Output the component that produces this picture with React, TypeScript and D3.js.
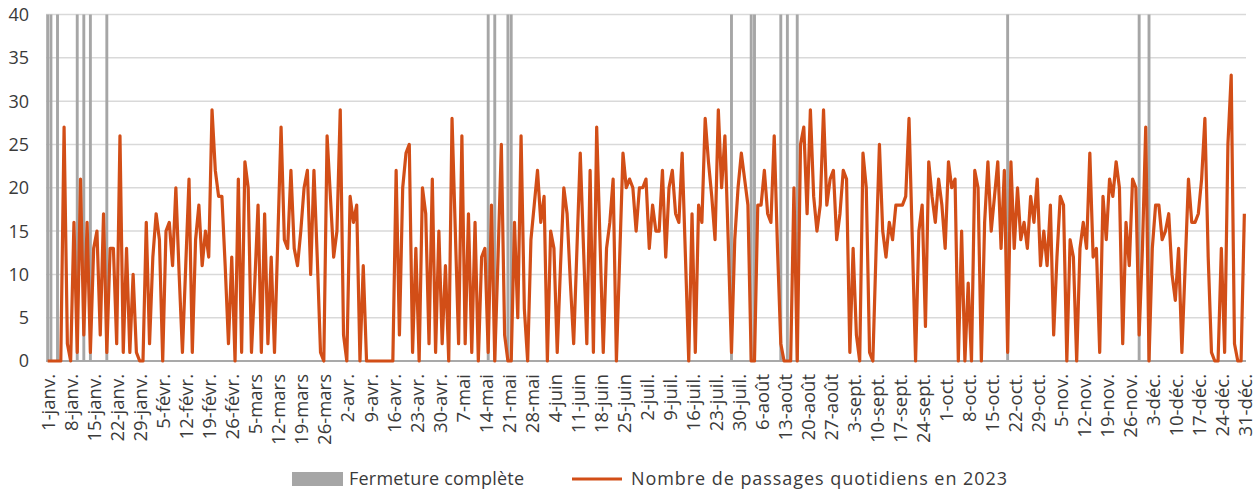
import React from "react";
import * as d3 from "d3";

// Daily visits in 2023 (index 0 = 1 January)
const dailyValues: number[] = [
  0, 0, 0, 0, 0, 27, 2, 0, 16, 1, 21, 3, 16, 1, 13, 15, 3, 17, 1, 13, 13, 2, 26, 1, 13, 1, 10, 1, 0, 0, 16,
  2, 12, 17, 14, 0, 15, 16, 11, 20, 10, 1, 11, 21, 1, 14, 18, 11, 15, 12, 29, 22, 19, 19, 11, 2, 12, 0,
  21, 1, 23, 20, 1, 9, 18, 1, 17, 2, 12, 1, 14, 27, 14, 13, 22, 13, 11, 15, 20, 22, 10, 22, 12, 1, 0, 26, 19, 12, 15, 29,
  3, 0, 19, 16, 18, 0, 11, 0, 0, 0, 0, 0, 0, 0, 0, 0, 22, 3, 20, 24, 25, 1, 13, 0, 20, 17, 2, 21, 1, 15,
  2, 11, 0, 28, 15, 2, 26, 2, 17, 1, 16, 0, 12, 13, 1, 18, 0, 12, 25, 3, 0, 0, 16, 5, 26, 6, 0, 14, 18, 22, 16,
  19, 0, 15, 13, 1, 11, 20, 17, 9, 2, 13, 24, 13, 2, 22, 1, 27, 14, 1, 13, 16, 21, 0, 12, 24, 20, 21, 20, 15,
  20, 20, 21, 13, 18, 15, 15, 22, 12, 20, 22, 17, 16, 24, 12, 0, 17, 1, 18, 16, 28, 23, 19, 14, 29, 20, 26, 14, 1, 14, 20,
  24, 21, 18, 0, 0, 18, 18, 22, 17, 16, 26, 13, 2, 0, 0, 0, 20, 0, 25, 27, 17, 29, 19, 15, 18, 29, 18, 21,
  22, 14, 17, 22, 21, 1, 13, 3, 0, 24, 20, 1, 0, 13, 25, 15, 12, 16, 14, 18, 18, 18, 19, 28, 14, 0, 15, 18, 4, 23,
  19, 16, 21, 18, 13, 23, 20, 21, 0, 15, 0, 9, 0, 22, 20, 0, 16, 23, 15, 19, 23, 13, 22, 1, 23, 13, 20, 14, 16,
  13, 19, 16, 21, 11, 15, 11, 18, 3, 12, 19, 18, 0, 14, 12, 0, 13, 16, 13, 24, 12, 13, 1, 19, 14, 21, 19, 23, 20,
  2, 16, 11, 21, 20, 3, 13, 27, 0, 13, 18, 18, 14, 15, 17, 10, 7, 13, 1, 11, 21, 16, 16, 17, 21, 28, 12, 1, 0, 0,
  13, 1, 25, 33, 2, 0, 0, 17,
];

// Days with complete closure (index in the year)
const closedDays: number[] = [0, 1, 3, 9, 11, 13, 18, 134, 136, 140, 141, 208, 214, 215, 223, 225, 228, 292, 332, 335];

const tickLabels: string[] = [
  "1-janv.", "8-janv.", "15-janv.", "22-janv.", "29-janv.", "5-févr.", "12-févr.", "19-févr.", "26-févr.",
  "5-mars", "12-mars", "19-mars", "26-mars", "2-avr.", "9-avr.", "16-avr.", "23-avr.", "30-avr.",
  "7-mai", "14-mai", "21-mai", "28-mai", "4-juin", "11-juin", "18-juin", "25-juin", "2-juil.", "9-juil.",
  "16-juil.", "23-juil.", "30-juil.", "6-août", "13-août", "20-août", "27-août", "3-sept.", "10-sept.",
  "17-sept.", "24-sept.", "1-oct.", "8-oct.", "15-oct.", "22-oct.", "29-oct.", "5-nov.", "12-nov.",
  "19-nov.", "26-nov.", "3-déc.", "10-déc.", "17-déc.", "24-déc.", "31-déc.",
];
const tickEvery = 7;
const yTicks: number[] = [0, 5, 10, 15, 20, 25, 30, 35, 40];

const legendLabels = ["Fermeture complète", "Nombre de passages quotidiens en 2023"];

const W = 1258;
const H = 493;
const ORANGE = "#D24E17";
const GREY = "#A6A6A6";
const FONT = "'Open Sans', 'Noto Sans', sans-serif";

export default function App() {
  const days = d3.range(dailyValues.length);
  const x = d3.scaleBand<number>().domain(days).range([46, 1246]).padding(0);
  const bw = x.bandwidth();
  const cx = (i: number) => (x(i) as number) + bw / 2;
  const y = d3.scaleLinear().domain([0, 40]).range([361, 14.5]);

  const line = d3
    .line<number>()
    .x((_, i) => cx(i))
    .y((v) => y(v));

  const barW = bw * 0.88;

  return (
    <svg
      width={W}
      height={H}
      style={{ position: "absolute", left: 0, top: 0, background: "#fff" }}
      fontFamily={FONT}
    >
      {/* gridlines */}
      {yTicks.map((t) => (
        <line
          key={"g" + t}
          x1={46}
          x2={1246}
          y1={y(t)}
          y2={y(t)}
          stroke={t === 0 ? "#8c8c8c" : "#d9d9d9"}
          strokeWidth={1.5}
        />
      ))}
      {/* y labels */}
      {yTicks.map((t) => (
        <text key={"y" + t} x={29} y={y(t)} dy="0.36em" textAnchor="end" fontSize={18} fill="#3a3a3a">
          {t}
        </text>
      ))}
      {/* closure bars */}
      {closedDays.map((d) => (
        <rect key={"b" + d} x={cx(d) - barW / 2} y={y(40)} width={barW} height={y(0) - y(40)} fill={GREY} />
      ))}
      {/* line */}
      <path d={line(dailyValues) as string} fill="none" stroke={ORANGE} strokeWidth={3.2} strokeLinejoin="round" />
      {/* x labels */}
      {tickLabels.map((lab, k) => {
        const px = cx(k * tickEvery);
        return (
          <text
            key={"x" + k}
            transform={`translate(${px + 1},374) rotate(-90)`}
            dy="0.36em"
            textAnchor="end"
            fontSize={18.5}
            fill="#3a3a3a"
          >
            {lab}
          </text>
        );
      })}
      {/* legend */}
      <rect x={292} y={472} width={51} height={14} fill={GREY} />
      <text x={349} y={479} dy="0.36em" fontSize={18} fill="#3a3a3a" textLength={175} lengthAdjust="spacing">
        {legendLabels[0]}
      </text>
      <line x1={572} x2={622} y1={479} y2={479} stroke={ORANGE} strokeWidth={3} />
      <text x={631} y={479} dy="0.36em" fontSize={18} fill="#3a3a3a" textLength={376} lengthAdjust="spacing">
        {legendLabels[1]}
      </text>
    </svg>
  );
}
